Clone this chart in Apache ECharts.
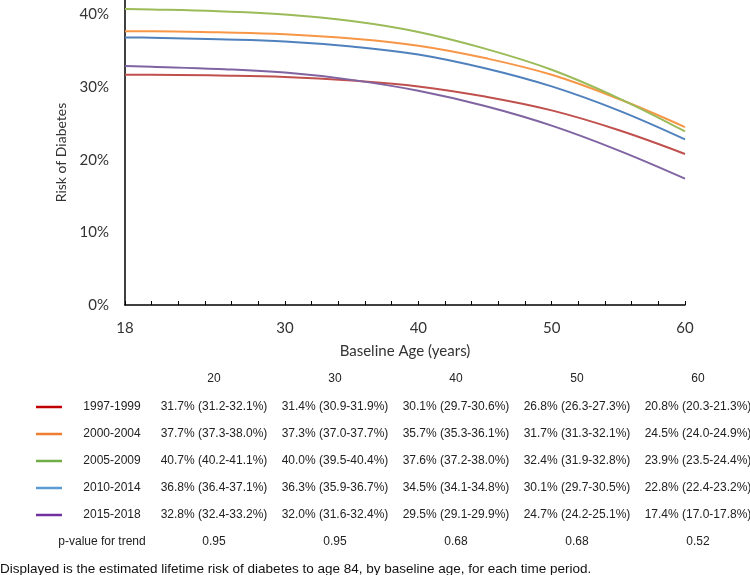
<!DOCTYPE html>
<html>
<head>
<meta charset="utf-8">
<script src="https://cdn.jsdelivr.net/npm/echarts@6/dist/echarts.min.js"></script>
<style>
html,body{margin:0;padding:0;background:#fff;}
#chart{width:750px;height:575px;}
</style>
</head>
<body>
<div id="chart"></div>
<script>
// ---- data ----
var ages = [18, 20, 25, 30, 35, 40, 45, 50, 55, 60];
var periods = ['1997-1999', '2000-2004', '2005-2009', '2010-2014', '2015-2018'];
var risk1997 = [31.7, 31.7, 31.6, 31.4, 30.9, 30.1, 28.7, 26.8, 24.1, 20.8];
var risk2000 = [37.7, 37.7, 37.55, 37.3, 36.7, 35.7, 34.0, 31.7, 28.4, 24.5];
var risk2005 = [40.75, 40.7, 40.45, 40.0, 39.1, 37.6, 35.3, 32.4, 28.5, 23.9];
var risk2010 = [36.85, 36.8, 36.6, 36.3, 35.6, 34.5, 32.6, 30.1, 26.8, 22.8];
var risk2015 = [32.9, 32.8, 32.5, 32.0, 31.0, 29.5, 27.4, 24.7, 21.3, 17.4];
var xTickLabels = [18, 30, 40, 50, 60];
var yTickLabels = [0, 10, 20, 30, 40];
var tableAges = ['20', '30', '40', '50', '60'];
var cells1997 = ['31.7% (31.2-32.1%)', '31.4% (30.9-31.9%)', '30.1% (29.7-30.6%)', '26.8% (26.3-27.3%)', '20.8% (20.3-21.3%)'];
var cells2000 = ['37.7% (37.3-38.0%)', '37.3% (37.0-37.7%)', '35.7% (35.3-36.1%)', '31.7% (31.3-32.1%)', '24.5% (24.0-24.9%)'];
var cells2005 = ['40.7% (40.2-41.1%)', '40.0% (39.5-40.4%)', '37.6% (37.2-38.0%)', '32.4% (31.9-32.8%)', '23.9% (23.5-24.4%)'];
var cells2010 = ['36.8% (36.4-37.1%)', '36.3% (35.9-36.7%)', '34.5% (34.1-34.8%)', '30.1% (29.7-30.5%)', '22.8% (22.4-23.2%)'];
var cells2015 = ['32.8% (32.4-33.2%)', '32.0% (31.6-32.4%)', '29.5% (29.1-29.9%)', '24.7% (24.2-25.1%)', '17.4% (17.0-17.8%)'];
var pValues = ['0.95', '0.95', '0.68', '0.68', '0.52'];
var footnote = 'Displayed is the estimated lifetime risk of diabetes to age 84, by baseline age, for each time period.';

// ---- styles ----
var lineColors = ['#C0504D', '#F79646', '#9BBB59', '#4F81BD', '#8064A2'];
var legendColors = ['#C00000', '#ED7D31', '#70AD47', '#5B9BD5', '#7030A0'];
var allRisk = [risk1997, risk2000, risk2005, risk2010, risk2015];
var allCells = [cells1997, cells2000, cells2005, cells2010, cells2015];

var chart = echarts.init(document.getElementById('chart'));

var series = periods.map(function (p, k) {
  return {
    name: p,
    type: 'line',
    smooth: 0.4,
    showSymbol: false,
    lineStyle: { width: 2, color: lineColors[k] },
    itemStyle: { color: lineColors[k] },
    data: ages.map(function (a, i) { return [a, allRisk[k][i]]; })
  };
});

// table graphics
var colX = [214, 335, 456, 577, 698];
var rowY = [407, 434, 461, 488, 515];
var tFont = '12px "Liberation Sans", Arial, sans-serif';
var tColor = '#222';
var g = [];
tableAges.forEach(function (t, j) {
  g.push({ type: 'text', x: colX[j], y: 379, style: { text: t, font: tFont, fill: tColor, align: 'center', verticalAlign: 'middle' } });
});
periods.forEach(function (p, k) {
  g.push({ type: 'line', shape: { x1: 36, y1: rowY[k], x2: 62, y2: rowY[k] }, style: { stroke: legendColors[k], lineWidth: 2.5 } });
  g.push({ type: 'text', x: 112, y: rowY[k], style: { text: p, font: tFont, fill: tColor, align: 'center', verticalAlign: 'middle' } });
  allCells[k].forEach(function (c, j) {
    g.push({ type: 'text', x: colX[j], y: rowY[k], style: { text: c, font: tFont, fill: tColor, align: 'center', verticalAlign: 'middle' } });
  });
});
g.push({ type: 'text', x: 102, y: 542, style: { text: 'p-value for trend', font: tFont, fill: tColor, align: 'center', verticalAlign: 'middle' } });
pValues.forEach(function (v, j) {
  g.push({ type: 'text', x: colX[j], y: 542, style: { text: v, font: tFont, fill: tColor, align: 'center', verticalAlign: 'middle' } });
});
g.push({ type: 'text', x: 0, y: 569, style: { text: footnote, font: '13.5px "Liberation Sans", Arial, sans-serif', fill: '#111', align: 'left', verticalAlign: 'middle' } });

chart.setOption({
  animation: false,
  backgroundColor: '#fff',
  grid: { left: 125, right: 65, top: 0, bottom: 270, containLabel: false },
  xAxis: {
    type: 'value',
    min: 18, max: 60, interval: 2,
    name: 'Baseline Age (years)',
    nameLocation: 'middle',
    nameGap: 39,
    nameTextStyle: { fontFamily: 'Lato', fontSize: 15, color: '#333' },
    axisLine: { show: true, lineStyle: { color: '#000', width: 1.5 } },
    axisTick: { show: true, inside: true, length: 4, lineStyle: { color: '#000', width: 1 } },
    splitLine: { show: false },
    axisLabel: {
      margin: 16,
      fontFamily: 'Lato', fontSize: 15, color: '#333',
      formatter: function (v) { return xTickLabels.indexOf(v) >= 0 ? String(v) : ''; }
    }
  },
  yAxis: {
    type: 'value',
    min: 0, max: 42, interval: 10,
    name: 'Risk of Diabetes',
    nameLocation: 'middle',
    nameGap: 47,
    nameTextStyle: { fontFamily: 'Lato', fontSize: 14, color: '#333' },
    axisLine: { show: true, lineStyle: { color: '#000', width: 1.5 } },
    axisTick: { show: false },
    splitLine: { show: false },
    axisLabel: {
      margin: 16,
      fontFamily: 'Lato', fontSize: 15, color: '#333',
      formatter: function (v) { return yTickLabels.indexOf(v) >= 0 ? v + '%' : ''; }
    }
  },
  series: series,
  graphic: g
});
</script>
</body>
</html>
